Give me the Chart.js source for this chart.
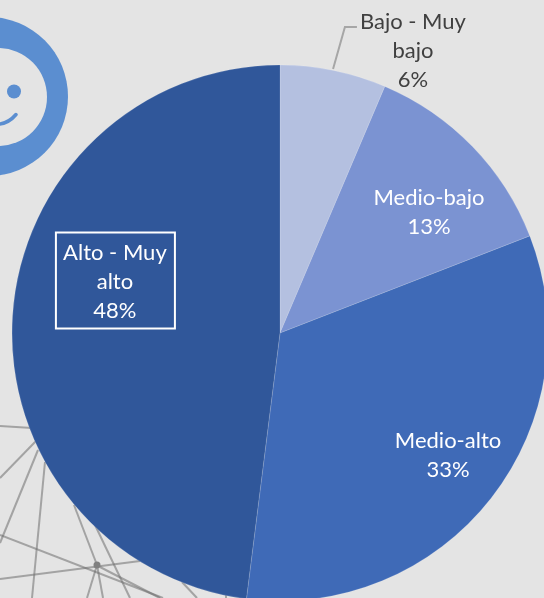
<!DOCTYPE html>
<html><head><meta charset="utf-8">
<style>html,body{margin:0;padding:0;width:544px;height:598px;overflow:hidden;background:#e4e4e4}
#wrap{position:absolute;left:0;top:0;width:544px;height:598px;overflow:hidden}
canvas{position:absolute;left:0;top:0}</style>
<script src="https://cdn.jsdelivr.net/npm/chart.js@4"></script>
</head><body><div id="wrap"><canvas id="c" width="560" height="666" style="width:560px;height:666px"></canvas></div>
<script>
const categories = ['Bajo - Muy bajo','Medio-bajo','Medio-alto','Alto - Muy alto'];
const values = [6.4,12.7,32.9,48.0];
const percentLabels = ['6%','13%','33%','48%'];
const labelLines = [['Bajo - Muy','bajo'],['Medio-bajo'],['Medio-alto'],['Alto - Muy','alto']];
const sliceColors = ['#b4c0e0','#7b93d2','#3f6ab7','#30579a'];
const labelColors = ['#404040','#ffffff','#ffffff','#ffffff'];
// label block centres, as fractions of the pie radius from its centre
const labelAnchors = [[0.496,-1.056],[0.556,-0.451],[0.627,0.455],[-0.616,-0.194]];
// decorative background network (left lower corner)
const netLines = [[0,426,32,428],[0,478,36,441],[38,450,0,543],[45,462,32,598],[0,535,163,598],[0,579,140,561],
 [74,505,97,565],[97,565,103,598],[97,565,87,598],[95,525,130,598],[100,567,160,598],[182,582,197,598],[226,595,226,598]];

const backdrop = {id:'backdrop',beforeDraw(ch){
  const g=ch.ctx; g.save();
  g.fillStyle='#e4e4e4'; g.fillRect(0,0,ch.width,ch.height);
  g.strokeStyle='rgba(110,110,110,.55)'; g.lineWidth=2;
  netLines.forEach(l=>{g.beginPath();g.moveTo(l[0],l[1]);g.lineTo(l[2],l[3]);g.stroke();});
  g.fillStyle='#808080'; g.beginPath(); g.arc(97,565,3.5,0,Math.PI*2); g.fill();
  // smiley badge
  g.fillStyle='#5b8ed0';
  g.beginPath(); g.arc(-11.5,96.5,79.5,0,Math.PI*2); g.fill();
  g.fillStyle='#e4e4e4';
  g.beginPath(); g.arc(-2,97,49,0,Math.PI*2); g.fill();
  g.fillStyle='#5b8ed0';
  g.beginPath(); g.arc(14,91.5,7,0,Math.PI*2); g.fill();
  g.strokeStyle='#5b8ed0'; g.lineWidth=3.5; g.lineCap='round';
  g.beginPath(); g.moveTo(-4,124.5); g.quadraticCurveTo(8,124,16,114.5); g.stroke();
  g.restore();
}};

const labelsPlugin = {id:'sliceLabels',afterDatasetsDraw(ch){
  const g=ch.ctx, arcs=ch.getDatasetMeta(0).data, lh=29;
  g.save();
  g.textAlign='center'; g.textBaseline='middle';
  g.font='22px Lato, "Open Sans", sans-serif';
  arcs.forEach((a,i)=>{
    const cx=a.x+labelAnchors[i][0]*a.outerRadius, cy=a.y+labelAnchors[i][1]*a.outerRadius;
    const lines=[...labelLines[i],percentLabels[i]];
    const top=cy-(lines.length-1)*lh/2+0.5;
    g.fillStyle=labelColors[i];
    lines.forEach((t,k)=>g.fillText(t,cx,top+k*lh));
    if(i===3){
      g.strokeStyle='#ffffff'; g.lineWidth=2;
      g.strokeRect(cx-59,cy-48.5,119,96);
    }
    if(i===0){
      g.strokeStyle='#a6a6a6'; g.lineWidth=2;
      g.beginPath(); g.moveTo(a.x+0.198*a.outerRadius,a.y-0.985*a.outerRadius);
      g.lineTo(cx-68,cy-23); g.lineTo(cx-56,cy-23); g.stroke();
    }
  });
  g.restore();
}};

new Chart(document.getElementById('c'),{
  type:'pie',
  data:{labels:categories,datasets:[{data:values,backgroundColor:sliceColors,borderWidth:1,borderColor:'rgba(255,255,255,.14)',radius:268}]},
  options:{responsive:false,animation:false,devicePixelRatio:1,
    layout:{padding:0},
    plugins:{legend:{display:false},tooltip:{enabled:false}}},
  plugins:[backdrop,labelsPlugin]
});
</script></body></html>
